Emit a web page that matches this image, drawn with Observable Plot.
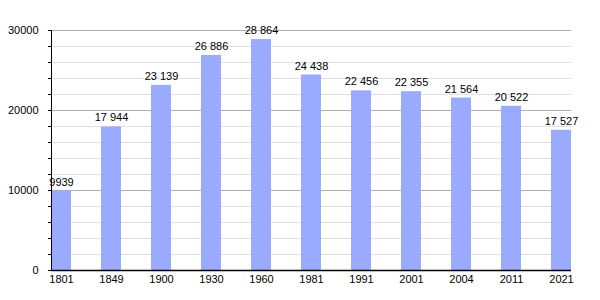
<!DOCTYPE html>
<html><head><meta charset="utf-8">
<script src="https://cdn.jsdelivr.net/npm/d3@7"></script>
<script src="https://cdn.jsdelivr.net/npm/@observablehq/plot@0.6"></script>
<style>body{margin:0;background:#fff}svg{font-family:"Liberation Sans",Arial,sans-serif}</style>
</head><body><div id="chart"></div>
<script>
const years = ["1801","1849","1900","1930","1960","1981","1991","2001","2004","2011","2021"];
const population = [9939,17944,23139,26886,28864,24438,22456,22355,21564,20522,17527];
const labels = ["9939","17 944","23 139","26 886","28 864","24 438","22 456","22 355","21 564","20 522","17 527"];
const yTicks = [0,10000,20000,30000];
const minorTicks = d3.range(0,30001,2000);
const data = years.map((y,i)=>({year:y,value:population[i],label:labels[i]}));
const chart = Plot.plot({
  width:600,height:300,
  marginLeft:51,marginRight:29,marginTop:30,marginBottom:30,
  style:{fontFamily:'"Liberation Sans",Arial,sans-serif',fontSize:"11px",color:"#000",background:"#fff"},
  x:{domain:years,paddingInner:0.6,paddingOuter:0,align:0,label:null},
  y:{domain:[0,30000],label:null},
  marks:[
    Plot.ruleY(minorTicks.filter(d=>d%10000!==0),{stroke:"#e0e0e0",strokeWidth:1}),
    Plot.ruleY(yTicks,{stroke:"#b0b0b0",strokeWidth:1}),
    Plot.barY(data,{x:"year",y:"value",fill:"#9aabff"}),
    Plot.text(data,{x:"year",y:"value",text:"label",dy:-9,fill:"#000",fontSize:11}),
    Plot.axisY({ticks:minorTicks,tickSize:3,text:null,label:null,stroke:"#000"}),
    Plot.axisY({ticks:yTicks,tickSize:0,tickPadding:13,tickFormat:d=>String(d),label:null,fontSize:11}),
    Plot.axisX({tickSize:0,tickPadding:5,label:null,fontSize:11}),
    Plot.ruleX([0],{x:()=>years[0],dx:-10,y1:0,y2:30000,stroke:"#000"}),
    Plot.ruleY([0],{stroke:"#000",strokeWidth:1.5})
  ]
});
document.getElementById("chart").append(chart);
</script></body></html>
